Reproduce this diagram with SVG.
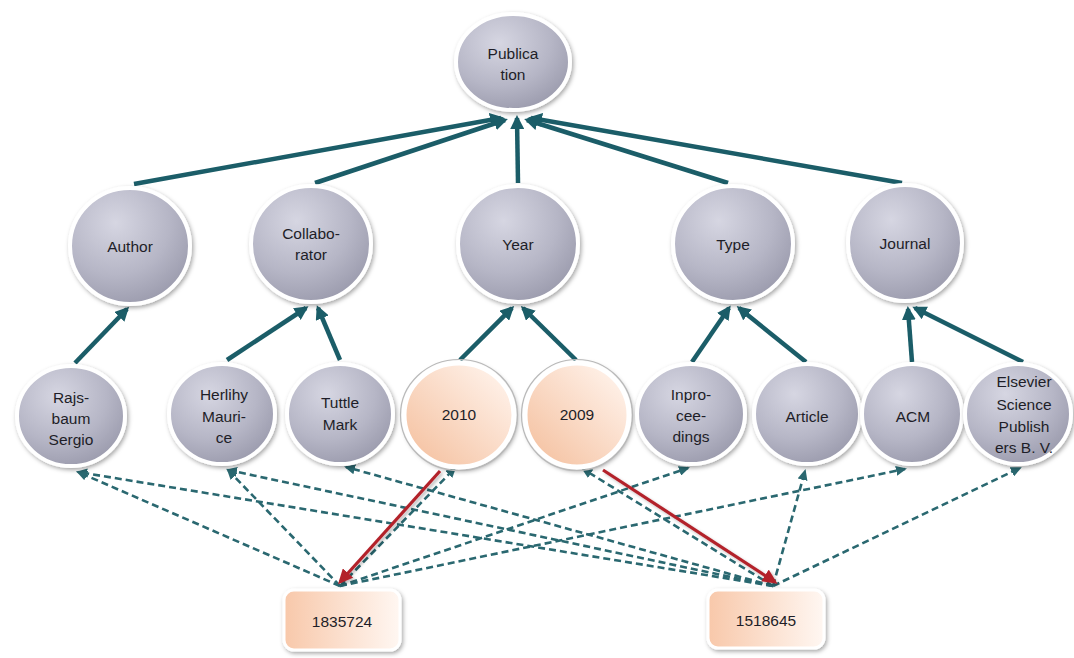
<svg xmlns="http://www.w3.org/2000/svg" width="1074" height="658" viewBox="0 0 1074 658">
<defs>
<style>
.lbl{font-family:"Liberation Sans",Arial,sans-serif;font-size:15.5px;fill:#1e1e28;text-anchor:middle}
.gn{fill:url(#gGrey);stroke:#ffffff;stroke-width:4;filter:url(#sh)}
.pn{fill:url(#gPeach);stroke:#ffffff;stroke-width:5;filter:url(#sh)}
.pr{fill:none;stroke:#b9b9b9;stroke-width:1.2}
.bx{fill:url(#gBox);stroke:#ffffff;stroke-width:3;filter:url(#sh)}
.solid{fill:none;stroke:#1b5d68;stroke-width:4.5;marker-end:url(#aSolid)}
.dash{fill:none;stroke:#2a6870;stroke-width:2.6;stroke-dasharray:7 4;marker-end:url(#aDash)}
.red{fill:none;stroke:#b3222b;stroke-width:3.2;marker-end:url(#aRed);filter:url(#shl)}
</style>
<radialGradient id="gGrey" cx="0.38" cy="0.3" r="0.75">
<stop offset="0" stop-color="#d6d6e2"/>
<stop offset="0.6" stop-color="#b6b6c6"/>
<stop offset="1" stop-color="#9a9aac"/>
</radialGradient>
<linearGradient id="gPeach" x1="0.1" y1="0.9" x2="0.9" y2="0.1">
<stop offset="0" stop-color="#f5c3a3"/>
<stop offset="1" stop-color="#fff2ea"/>
</linearGradient>
<linearGradient id="gBox" x1="0" y1="0" x2="1" y2="0">
<stop offset="0" stop-color="#f8c8aa"/>
<stop offset="1" stop-color="#fff7f2"/>
</linearGradient>
<filter id="sh" x="-20%" y="-20%" width="140%" height="140%">
<feDropShadow dx="1.5" dy="2" stdDeviation="2" flood-color="#000000" flood-opacity="0.35"/>
</filter>
<filter id="shl" x="-20%" y="-20%" width="140%" height="140%">
<feDropShadow dx="2" dy="2" stdDeviation="1.5" flood-color="#000000" flood-opacity="0.25"/>
</filter>
<marker id="aSolid" markerUnits="userSpaceOnUse" markerWidth="16" markerHeight="14" refX="11" refY="7" orient="auto">
<path d="M0,0 L14,7 L0,14 z" fill="#1b5d68"/>
</marker>
<marker id="aDash" markerUnits="userSpaceOnUse" markerWidth="12" markerHeight="10" refX="9" refY="5" orient="auto">
<path d="M0,0 L11,5 L0,10 z" fill="#2a6870"/>
</marker>
<marker id="aRed" markerUnits="userSpaceOnUse" markerWidth="16" markerHeight="14" refX="12" refY="7" orient="auto">
<path d="M0,0 L15,7 L0,14 z" fill="#b3222b"/>
</marker>
</defs>
<rect width="1074" height="658" fill="#ffffff"/>

<g id="connectors">
<path class="solid" d="M134,184 L501,118"/>
<path class="solid" d="M315,183 L505,120"/>
<path class="solid" d="M518,183 L517,118"/>
<path class="solid" d="M728,183 L527,120"/>
<path class="solid" d="M902,183 L531,118"/>

<path class="solid" d="M75,363 L127,309"/>
<path class="solid" d="M227,360 L306,308"/>
<path class="solid" d="M340,360 L318,308"/>
<path class="solid" d="M460,360 L512,308"/>
<path class="solid" d="M576,360 L523,308"/>
<path class="solid" d="M692,362 L729,308"/>
<path class="solid" d="M806,362 L739,308"/>
<path class="solid" d="M912,362 L908,309"/>
<path class="solid" d="M1023,362 L915,308"/>

<path class="dash" d="M340,586 L78,472"/>
<path class="dash" d="M340,586 L228,470"/>
<path class="dash" d="M340,586 L455,468"/>
<path class="dash" d="M340,586 L688,468"/>
<path class="dash" d="M340,586 L905,469"/>

<path class="dash" d="M773,586 L78,472"/>
<path class="dash" d="M773,586 L228,470"/>
<path class="dash" d="M773,586 L346,467"/>
<path class="dash" d="M773,586 L583,469"/>
<path class="dash" d="M773,586 L805,471"/>
<path class="dash" d="M773,586 L1020,468"/>

<path class="red" d="M440,471 L340,582"/>
<path class="red" d="M603,470 L775,582"/>
</g>

<g id="n-publication">
<ellipse class="gn" cx="513" cy="62" rx="57" ry="48"/>
<text class="lbl" x="513" y="59">Publica</text>
<text class="lbl" x="513" y="80">tion</text>
</g>

<g id="n-author">
<ellipse class="gn" cx="130" cy="246" rx="60" ry="58"/>
<text class="lbl" x="130" y="252">Author</text>
</g>
<g id="n-collaborator">
<ellipse class="gn" cx="311" cy="244" rx="60" ry="58"/>
<text class="lbl" x="311" y="239">Collabo-</text>
<text class="lbl" x="311" y="260">rator</text>
</g>
<g id="n-year">
<ellipse class="gn" cx="518" cy="244" rx="60" ry="58"/>
<text class="lbl" x="518" y="250">Year</text>
</g>
<g id="n-type">
<ellipse class="gn" cx="733" cy="244" rx="60" ry="58"/>
<text class="lbl" x="733" y="250">Type</text>
</g>
<g id="n-journal">
<ellipse class="gn" cx="905" cy="243" rx="57" ry="58"/>
<text class="lbl" x="905" y="249">Journal</text>
</g>

<g id="n-rajsbaum">
<ellipse class="gn" cx="71" cy="416" rx="54" ry="50"/>
<text class="lbl" x="71" y="403">Rajs-</text>
<text class="lbl" x="71" y="424">baum</text>
<text class="lbl" x="71" y="445">Sergio</text>
</g>
<g id="n-herlihy">
<ellipse class="gn" cx="222" cy="414" rx="53" ry="50"/>
<text class="lbl" x="224" y="400">Herlihy</text>
<text class="lbl" x="224" y="422">Mauri-</text>
<text class="lbl" x="224" y="443">ce</text>
</g>
<g id="n-tuttle">
<ellipse class="gn" cx="340" cy="414" rx="53" ry="50"/>
<text class="lbl" x="340" y="408">Tuttle</text>
<text class="lbl" x="340" y="430">Mark</text>
</g>
<g id="n-2010">
<ellipse class="pn" cx="459" cy="415" rx="55" ry="52"/>
<ellipse class="pr" cx="459" cy="415" rx="58.5" ry="55.5"/>
<text class="lbl" x="459" y="420">2010</text>
</g>
<g id="n-2009">
<ellipse class="pn" cx="577" cy="415" rx="52" ry="52"/>
<ellipse class="pr" cx="577" cy="415" rx="55.5" ry="55.5"/>
<text class="lbl" x="577" y="420">2009</text>
</g>
<g id="n-inproceedings">
<ellipse class="gn" cx="691" cy="414" rx="54" ry="50"/>
<text class="lbl" x="691" y="400">Inpro-</text>
<text class="lbl" x="691" y="421">cee-</text>
<text class="lbl" x="691" y="442">dings</text>
</g>
<g id="n-article">
<ellipse class="gn" cx="807" cy="414" rx="53" ry="50"/>
<text class="lbl" x="807" y="422">Article</text>
</g>
<g id="n-acm">
<ellipse class="gn" cx="912" cy="414" rx="50" ry="50"/>
<text class="lbl" x="913" y="422">ACM</text>
</g>
<g id="n-elsevier">
<ellipse class="gn" cx="1018" cy="414" rx="53" ry="50"/>
<text class="lbl" x="1024" y="387">Elsevier</text>
<text class="lbl" x="1024" y="410">Science</text>
<text class="lbl" x="1024" y="432">Publish</text>
<text class="lbl" x="1024" y="453">ers B. V.</text>
</g>

<g id="n-1835724">
<rect class="bx" x="284" y="590" width="116" height="60" rx="10"/>
<text class="lbl" x="342" y="627">1835724</text>
</g>
<g id="n-1518645">
<rect class="bx" x="708" y="590" width="116" height="58" rx="10"/>
<text class="lbl" x="766" y="626">1518645</text>
</g>
</svg>
